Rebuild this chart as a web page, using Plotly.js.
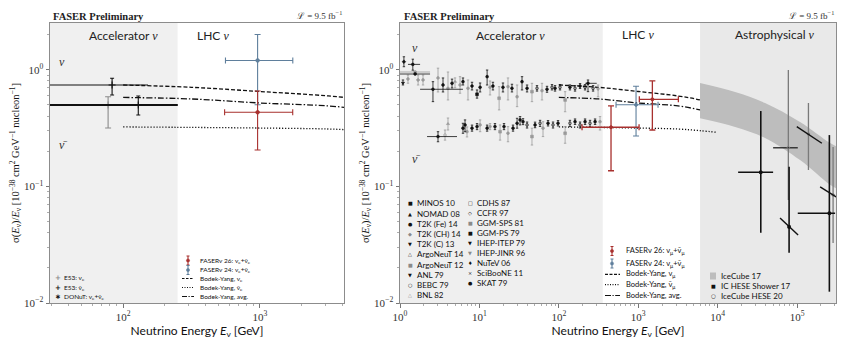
<!DOCTYPE html>
<html>
<head>
<meta charset="utf-8">
<script src="https://cdn.plot.ly/plotly-3.0.1.min.js"></script>
<style>html,body{margin:0;padding:0;background:#fff}</style>
</head>
<body>
<div id="chart" style="width:850px;height:345px"></div>
<script>
// ---------- Bodek-Yang model curves (sigma/E, 1e-38 cm^2 GeV^-1 nucleon^-1) ----------
const byE     = [100, 316, 1000, 3162, 6000, 10000];
const byNu    = [0.739, 0.706, 0.650, 0.595, 0.550, 0.489];
const byNuBar = [0.323, 0.320, 0.316, 0.310, 0.300, 0.290];
const byAvg   = [0.578, 0.561, 0.518, 0.489, 0.452, 0.415];

// ---------- Left panel: electron neutrinos ----------
const e53BlackE = [83], e53BlackS = [0.739], e53BlackLo = [0.607], e53BlackHi = [0.843], e53BlackElo = [20], e53BlackEhi = [152];
const e53GrayE = [77.6], e53GrayS = [0.498], e53GrayLo = [0.316], e53GrayHi = [0.586], e53GrayElo = [20], e53GrayEhi = [150];
const donutE = [129], donutS = [0.498], donutLo = [0.409], donutHi = [0.594], donutElo = [20], donutEhi = [251];

const faserE24E = [962], faserE24S = [1.2], faserE24Lo = [0.5], faserE24Hi = [2.0], faserE24Elo = [560], faserE24Ehi = [1740];
const faserE26E = [962], faserE26S = [0.431], faserE26Lo = [0.205], faserE26Hi = [0.656], faserE26Elo = [552], faserE26Ehi = [1738];

// ---------- Right panel: muon neutrinos ----------
const faserM24E = [938], faserM24S = [0.5], faserM24Lo = [0.27], faserM24Hi = [0.72], faserM24Elo = [525], faserM24Ehi = [1775];
const faserM26E = [454, 1506], faserM26S = [0.321, 0.557], faserM26Lo = [0.136, 0.304], faserM26Hi = [0.489, 0.80], faserM26Elo = [196, 1032], faserM26Ehi = [1024, 3200];

// accelerator nu measurements, black markers
const accNuBlkE  = [1.12, 1.45, 1.55, 1.09, 2.6, 3.48, 4.52, 6.21, 8.07, 9.33, 10.2, 12.5, 14.8, 19.8, 25.7, 34.4, 39.8, 53.1, 71, 82, 89.6, 103.5, 138, 160, 185, 214, 233, 270];
const accNuBlkS  = [1.17, 1.11, 0.918, 0.769, 0.679, 0.739, 0.764, 0.789, 0.724, 0.615, 0.706, 0.871, 0.724, 0.706, 0.692, 0.789, 0.692, 0.692, 0.679, 0.706, 0.692, 0.706, 0.706, 0.692, 0.724, 0.706, 0.764, 0.692];
const accNuBlkHi = [1.29, 1.23, 0.918, 0.816, 0.789, 0.849, 0.83, 0.849, 0.78, 0.67, 0.769, 0.993, 0.78, 0.769, 0.75, 0.871, 0.739, 0.73, 0.72, 0.745, 0.73, 0.745, 0.74, 0.73, 0.76, 0.745, 0.816, 0.73];
const accNuBlkLo = [1.06, 0.99, 0.918, 0.739, 0.532, 0.644, 0.697, 0.739, 0.67, 0.57, 0.644, 0.739, 0.67, 0.644, 0.644, 0.67, 0.644, 0.655, 0.64, 0.67, 0.655, 0.67, 0.67, 0.655, 0.69, 0.67, 0.648, 0.655];
const accNuBlkElo = [1.12, 1.26, 1.0, 1.09, 1.79, 3.48, 4.52, 6.21, 8.07, 9.33, 10.2, 12.5, 14.8, 19.8, 25.7, 34.4, 39.8, 53.1, 71, 82, 89.6, 103.5, 138, 160, 185, 214, 215, 270];
const accNuBlkEhi = [1.12, 1.79, 2.39, 1.09, 6.2, 3.48, 4.52, 6.21, 8.07, 9.33, 10.2, 12.5, 14.8, 19.8, 25.7, 34.4, 39.8, 53.1, 71, 82, 89.6, 103.5, 138, 160, 185, 214, 300, 270];
const accNuBlkSym = ['diamond', 'circle', 'circle', 'triangle-down', 'circle', 'circle', 'circle', 'circle', 'circle', 'square', 'circle', 'circle', 'circle', 'circle', 'circle', 'circle', 'circle', 'circle-open', 'circle', 'circle-open', 'circle', 'circle-open', 'circle', 'circle-open', 'circle', 'circle-open', 'circle', 'circle-open'];

// accelerator nu measurements, grey markers
const accNuGryE  = [1.55, 1.26, 1.69, 1.95, 3.01, 4.02, 4.93, 5.7, 7.18, 13.6, 17.7, 22.9, 29.8, 45.9, 61.4, 120, 312];
const accNuGryS  = [0.955, 0.832, 0.816, 0.816, 0.849, 0.692, 0.789, 0.739, 0.692, 0.706, 0.569, 0.715, 0.586, 0.648, 0.661, 0.55, 0.679];
const accNuGryHi = [0.955, 0.899, 0.899, 0.899, 1.03, 0.955, 0.85, 0.871, 0.816, 0.80, 0.715, 0.849, 0.739, 0.764, 0.764, 0.648, 0.739];
const accNuGryLo = [0.955, 0.765, 0.739, 0.739, 0.644, 0.55, 0.70, 0.628, 0.55, 0.607, 0.452, 0.55, 0.482, 0.532, 0.55, 0.436, 0.586];
const accNuGryElo = [1.0, 1.26, 1.69, 1.95, 3.01, 4.02, 4.93, 5.7, 7.18, 13.6, 17.7, 22.9, 29.8, 45.9, 61.4, 120, 312];
const accNuGryEhi = [2.39, 1.26, 1.69, 1.95, 3.01, 4.02, 4.93, 5.7, 7.18, 13.6, 17.7, 22.9, 29.8, 45.9, 61.4, 120, 312];
const accNuGrySym = ['circle', 'circle', 'diamond', 'circle', 'circle', 'circle', 'triangle-up', 'circle', 'circle', 'circle', 'square', 'circle', 'circle', 'square', 'circle', 'square', 'triangle-down'];

// accelerator anti-nu measurements, black markers
const accNbBlkE  = [3.01, 6.21, 6.59, 8.07, 9.33, 12.5, 15.7, 20.4, 26.5, 29.8, 32.5, 35.4, 39.8, 50.2, 58, 73.1, 84.5, 97.7, 138, 160, 185, 214, 247, 286];
const accNbBlkS  = [0.267, 0.315, 0.336, 0.315, 0.325, 0.315, 0.325, 0.325, 0.315, 0.347, 0.371, 0.358, 0.336, 0.336, 0.347, 0.347, 0.336, 0.347, 0.347, 0.358, 0.336, 0.358, 0.347, 0.358];
const accNbBlkHi = [0.294, 0.347, 0.371, 0.335, 0.345, 0.335, 0.345, 0.345, 0.335, 0.383, 0.396, 0.38, 0.356, 0.355, 0.368, 0.366, 0.356, 0.366, 0.368, 0.378, 0.356, 0.378, 0.368, 0.378];
const accNbBlkLo = [0.241, 0.285, 0.294, 0.297, 0.306, 0.297, 0.306, 0.306, 0.297, 0.315, 0.336, 0.338, 0.316, 0.318, 0.326, 0.329, 0.316, 0.329, 0.326, 0.339, 0.316, 0.339, 0.326, 0.339];
const accNbBlkElo = [2.19, 6.21, 6.59, 8.07, 9.33, 12.5, 15.7, 20.4, 26.5, 29.8, 32.5, 35.4, 39.8, 50.2, 58, 73.1, 84.5, 97.7, 138, 160, 185, 214, 247, 286];
const accNbBlkEhi = [5.22, 6.21, 6.59, 8.07, 9.33, 12.5, 15.7, 20.4, 26.5, 29.8, 32.5, 35.4, 39.8, 50.2, 58, 73.1, 84.5, 97.7, 138, 160, 185, 214, 247, 286];
const accNbBlkSym = ['circle', 'circle', 'circle', 'circle', 'circle', 'circle', 'circle', 'circle', 'circle', 'circle', 'circle', 'circle', 'circle-open', 'circle', 'circle-open', 'circle', 'circle-open', 'circle', 'circle-open', 'circle', 'circle-open', 'circle', 'circle-open', 'circle'];

// accelerator anti-nu measurements, grey markers
const accNbGryE  = [3.69, 4.02, 6.98, 10.2, 13.6, 18.2, 22.9, 45.9, 63.2, 120, 330];
const accNbGryS  = [0.275, 0.343, 0.294, 0.336, 0.325, 0.294, 0.285, 0.267, 0.315, 0.285, 0.358];
const accNbGryHi = [0.304, 0.385, 0.323, 0.371, 0.345, 0.336, 0.325, 0.315, 0.358, 0.325, 0.396];
const accNbGryLo = [0.249, 0.304, 0.265, 0.294, 0.306, 0.249, 0.241, 0.226, 0.267, 0.234, 0.304];
const accNbGrySym = ['circle-open', 'triangle-up', 'circle', 'circle', 'circle', 'square', 'circle', 'square', 'circle', 'square', 'circle'];

// IceCube 17 band
const icBandE  = [6000, 16600, 39500, 109000, 260000, 320000];
const icBandHi = [0.769, 0.644, 0.518, 0.356, 0.235, 0.218];
const icBandLo = [0.383, 0.323, 0.260, 0.168, 0.103, 0.095];

// IC HESE shower 17
const hsE = [34900, 79300, 255000], hsS = [0.132, 0.0449, 0.0588], hsLo = [0.040, 0.0269, 0.0125], hsHi = [0.442, 0.147, 0.275];
const hsElo = [18100, 79300, 102000], hsEhi = [49900, 79300, 301000];
// IceCube HESE 20
const h20E = [77600, 139000, 284000], h20S = [0.214, 0.281, 0.0844], h20Lo = [0.0764, 0.138, 0.0327], h20Hi = [0.993, 0.518, 0.217];
const h20Elo = [49900, 139000, 284000], h20Ehi = [102000, 139000, 284000];
// sloped energy bins
const slopeAE = [61000, 103000], slopeAS = [0.0536, 0.0383];
const slopeBE = [99100, 205000], slopeBS = [0.325, 0.234];
const slopeCE = [195000, 310000], slopeCS = [0.0988, 0.081];

// region edges (GeV)
const leftAccelEnd = 250, rightAccelEnd = 357, astroStart = 6000;

// legend labels
const leftExpLabels = ['E53: ν<sub>e</sub>', 'E53: ν̄<sub>e</sub>', 'DONuT: ν<sub>e</sub>+ν̄<sub>e</sub>'];
const leftModelLabels = ['FASERν 26: ν<sub>e</sub>+ν̄<sub>e</sub>', 'FASERν 24: ν<sub>e</sub>+ν̄<sub>e</sub>', 'Bodek-Yang, ν<sub>e</sub>', 'Bodek-Yang, ν̄<sub>e</sub>', 'Bodek-Yang, avg.'];
const accCol1 = ['MINOS 10', 'NOMAD 08', 'T2K (Fe) 14', 'T2K (CH) 14', 'T2K (C) 13', 'ArgoNeuT 14', 'ArgoNeuT 12', 'ANL 79', 'BEBC 79', 'BNL 82'];
const accCol2 = ['CDHS 87', 'CCFR 97', 'GGM-SPS 81', 'GGM-PS 79', 'IHEP-ITEP 79', 'IHEP-JINR 96', 'NuTeV 06', 'SciBooNE 11', 'SKAT 79'];
const rightModelLabels = ['FASERν 26: ν<sub>μ</sub>+ν̄<sub>μ</sub>', 'FASERν 24: ν<sub>μ</sub>+ν̄<sub>μ</sub>', 'Bodek-Yang, ν<sub>μ</sub>', 'Bodek-Yang, ν̄<sub>μ</sub>', 'Bodek-Yang, avg.'];
const astroLabels = ['IceCube 17', 'IC HESE Shower 17', 'IceCube HESE 20'];

// ---------------------------------------------------------------
const BLACK = '#111', GREY = '#8a8a8a', RED = '#a8302e', SLATE = '#5f7f9c';

function withErr(xa, ya, E, S, lo, hi, Elo, Ehi, st) {
  const t = {
    type: 'scatter', mode: 'markers', xaxis: xa, yaxis: ya, x: E, y: S,
    showlegend: false, hoverinfo: 'skip', cliponaxis: true,
    marker: {color: st.color, size: st.size || 4, symbol: st.symbol || 'circle', line: {color: st.color, width: st.mlw || 1}},
    error_y: {type: 'data', symmetric: false,
      array: hi.map((h, i) => h - S[i]), arrayminus: lo.map((l, i) => S[i] - l),
      color: st.color, thickness: st.thick || 1, width: st.cap === undefined ? 1.5 : st.cap}
  };
  if (Elo) {
    t.error_x = {type: 'data', symmetric: false,
      array: Ehi.map((h, i) => h - E[i]), arrayminus: Elo.map((l, i) => E[i] - l),
      color: st.xcolor || st.color, thickness: st.xthick || st.thick || 1, width: st.xcap === undefined ? 0 : st.xcap};
  }
  return t;
}
function curve(xa, ya, E, S, dash) {
  return {type: 'scatter', mode: 'lines', xaxis: xa, yaxis: ya, x: E, y: S, showlegend: false, hoverinfo: 'skip',
    line: {color: '#111', width: 1.3, dash: dash, shape: 'spline'}};
}
const DASH = '4px,2px', DOT = '1.2px,1.8px', DASHDOT = '6px,2px,1.5px,2px';

const traces = [];
// model curves in both panels
['x', 'x2'].forEach((xa, k) => {
  const ya = k ? 'y2' : 'y';
  traces.push(curve(xa, ya, byE, byNu, DASH));
  traces.push(curve(xa, ya, byE, byAvg, DASHDOT));
  traces.push(curve(xa, ya, byE, byNuBar, DOT));
});
// left panel data
traces.push(withErr('x', 'y', e53GrayE, e53GrayS, e53GrayLo, e53GrayHi, e53GrayElo, e53GrayEhi, {color: GREY, symbol: 'cross-thin', size: 5, cap: 3, thick: 1.1}));
traces.push(withErr('x', 'y', e53BlackE, e53BlackS, e53BlackLo, e53BlackHi, e53BlackElo, e53BlackEhi, {color: BLACK, symbol: 'cross-thin', size: 5, cap: 2, thick: 1.1}));
traces.push(withErr('x', 'y', donutE, donutS, donutLo, donutHi, donutElo, donutEhi, {color: BLACK, symbol: 'cross-thin', size: 5, cap: 2, thick: 1.1, xthick: 1.8}));
traces.push(withErr('x', 'y', faserE24E, faserE24S, faserE24Lo, faserE24Hi, faserE24Elo, faserE24Ehi, {color: SLATE, size: 3.5, cap: 3, xcap: 3, thick: 1.1}));
traces.push(withErr('x', 'y', faserE26E, faserE26S, faserE26Lo, faserE26Hi, faserE26Elo, faserE26Ehi, {color: RED, size: 3.5, cap: 3, xcap: 3, thick: 1.1}));

// right panel: IceCube band
traces.push({type: 'scatter', mode: 'lines', xaxis: 'x2', yaxis: 'y2', x: icBandE, y: icBandLo, line: {width: 0, shape: 'spline'}, showlegend: false, hoverinfo: 'skip'});
traces.push({type: 'scatter', mode: 'lines', xaxis: 'x2', yaxis: 'y2', x: icBandE, y: icBandHi, line: {width: 0, shape: 'spline'}, fill: 'tonexty', fillcolor: '#bdbdbd', showlegend: false, hoverinfo: 'skip'});

// right panel: accelerator data
const accStyle = {size: 2.8, cap: 1.2, thick: 0.8, mlw: 0.6};
traces.push(withErr('x2', 'y2', accNuGryE, accNuGryS, accNuGryLo, accNuGryHi, accNuGryElo, accNuGryEhi, Object.assign({color: '#9a9a9a', symbol: accNuGrySym}, accStyle)));
traces.push(withErr('x2', 'y2', accNbGryE, accNbGryS, accNbGryLo, accNbGryHi, null, null, Object.assign({color: '#9a9a9a', symbol: accNbGrySym}, accStyle)));
traces.push(withErr('x2', 'y2', accNuBlkE, accNuBlkS, accNuBlkLo, accNuBlkHi, accNuBlkElo, accNuBlkEhi, Object.assign({color: BLACK, symbol: accNuBlkSym}, accStyle)));
traces.push(withErr('x2', 'y2', accNbBlkE, accNbBlkS, accNbBlkLo, accNbBlkHi, accNbBlkElo, accNbBlkEhi, Object.assign({color: BLACK, symbol: accNbBlkSym}, accStyle)));

// right panel: FASER
traces.push(withErr('x2', 'y2', faserM24E, faserM24S, faserM24Lo, faserM24Hi, faserM24Elo, faserM24Ehi, {color: SLATE, size: 3, cap: 3, xcap: 3, thick: 1.1}));
traces.push(withErr('x2', 'y2', faserM26E, faserM26S, faserM26Lo, faserM26Hi, faserM26Elo, faserM26Ehi, {color: RED, size: 3, cap: 3, xcap: 3, thick: 1.3}));

// right panel: astrophysical
traces.push(withErr('x2', 'y2', h20E, h20S, h20Lo, h20Hi, h20Elo, h20Ehi, {color: '#7a7a7a', symbol: 'circle-open', size: 2.5, cap: 0, thick: 1.3, xcolor: '#222'}));
traces.push(withErr('x2', 'y2', hsE, hsS, hsLo, hsHi, hsElo, hsEhi, {color: BLACK, symbol: 'square', size: 2.5, cap: 0, thick: 1.6, xthick: 1.3}));
[[slopeAE, slopeAS], [slopeBE, slopeBS], [slopeCE, slopeCS]].forEach(([E, S]) => {
  traces.push({type: 'scatter', mode: 'lines', xaxis: 'x2', yaxis: 'y2', x: E, y: S, line: {color: BLACK, width: 1.4}, showlegend: false, hoverinfo: 'skip'});
});

// ---------------------------------------------------------------
// layout helpers (pixel -> paper)
const ML = 50, MR = 14, MT = 23, MB = 42, W = 850, H = 345;
const PW = W - ML - MR, PH = H - MT - MB;
const px = v => (v - ML) / PW;
const py = v => (H - MB - v) / PH;

function minorTicks(lo, hi) {
  const out = [];
  for (let d = lo; d < hi; d++) for (let m = 2; m <= 9; m++) out.push(m * Math.pow(10, d));
  return out;
}
function logAxis(range, majors, labels, minors, domain, anchor) {
  return {
    type: 'log', range: range, domain: domain, anchor: anchor,
    tickmode: 'array', tickvals: majors, ticktext: labels,
    ticks: 'outside', ticklen: 3.5, tickwidth: 0.8, tickcolor: '#555',
    minor: {tickmode: 'array', tickvals: minors, ticks: 'outside', ticklen: 2, tickwidth: 0.6, tickcolor: '#777'},
    showline: true, mirror: true, linecolor: '#8c8c8c', linewidth: 1,
    showgrid: false, zeroline: false,
    tickfont: {family: 'Liberation Serif, serif', size: 11, color: '#333'}
  };
}
const sup = n => '10<sup>' + String(n).replace('-', '−') + '</sup>';
const ytitle = 'σ(<i>E</i><sub>ν</sub>)/<i>E</i><sub>ν</sub> [10<sup>−38</sup> cm<sup>2</sup> GeV<sup>−1</sup> nucleon<sup>−1</sup>]';
const xtitle = 'Neutrino Energy <i>E</i><sub>ν</sub> [GeV]';

const xa1 = logAxis([1.465, 3.615], [100, 1000], [sup(2), sup(3)], minorTicks(1, 4), [0, (344 - ML) / PW], 'y');
const xa2 = logAxis([0, 5.49], [1, 10, 100, 1000, 1e4, 1e5], [0, 1, 2, 3, 4, 5].map(sup), minorTicks(0, 6), [(400 - ML) / PW, 1], 'y2');
const ya1 = logAxis([-2, 0.4], [0.01, 0.1, 1], [sup(-2), sup(-1), sup(0)], minorTicks(-2, 1), [0, 1], 'x');
const ya2 = logAxis([-2, 0.4], [0.01, 0.1, 1], [sup(-2), sup(-1), sup(0)], minorTicks(-2, 1), [0, 1], 'x2');
[xa1, xa2].forEach(a => a.title = {text: xtitle, font: {family: 'Lato, sans-serif', size: 12, color: '#111'}, standoff: 3});
[ya1, ya2].forEach(a => a.title = {text: ytitle, font: {family: 'Liberation Serif, serif', size: 10.5, color: '#111'}, standoff: 2});

const shapes = [
  {type: 'rect', xref: 'x', yref: 'y domain', x0: 20, x1: leftAccelEnd, y0: 0, y1: 1, fillcolor: '#f0f0f0', line: {width: 0}, layer: 'below'},
  {type: 'rect', xref: 'x2', yref: 'y2 domain', x0: 1, x1: rightAccelEnd, y0: 0, y1: 1, fillcolor: '#efefef', line: {width: 0}, layer: 'below'},
  {type: 'rect', xref: 'x2', yref: 'y2 domain', x0: astroStart, x1: 4e5, y0: 0, y1: 1, fillcolor: '#e9e9e9', line: {width: 0}, layer: 'below'}
];
const ann = [];
function txt(x, y, text, o) {
  o = o || {};
  ann.push({xref: 'paper', yref: 'paper', x: px(x), y: py(y), text: text, showarrow: false,
    xanchor: o.xanchor || 'left', yanchor: 'middle',
    font: {family: o.family || 'Lato, sans-serif', size: o.size || 8, color: o.color || '#111'}});
}
function hline(x0, x1, y, dash, color, w) {
  shapes.push({type: 'line', xref: 'paper', yref: 'paper', x0: px(x0), x1: px(x1), y0: py(y), y1: py(y), line: {color: color || '#111', width: w || 1.2, dash: dash || 'solid'}});
}
function vline(x, y0, y1, color, w) {
  shapes.push({type: 'line', xref: 'paper', yref: 'paper', x0: px(x), x1: px(x), y0: py(y0), y1: py(y1), line: {color: color, width: w || 1}});
}
function errIcon(x, y, color) {
  vline(x, y - 4.5, y + 4.5, color, 1.1);
  hline(x - 1.5, x + 1.5, y - 4.5, 'solid', color, 1);
  hline(x - 1.5, x + 1.5, y + 4.5, 'solid', color, 1);
  shapes.push({type: 'circle', xref: 'paper', yref: 'paper', x0: px(x - 1.6), x1: px(x + 1.6), y0: py(y + 1.6), y1: py(y - 1.6), fillcolor: color, line: {color: color, width: 0.5}});
}

// header texts
const serif = 'Liberation Serif, serif';
[[50.5, 344], [401.5, 836]].forEach(([l, r]) => {
  txt(l, 16, '<b>FASER Preliminary</b>', {family: serif, size: 10.5, color: '#222'});
  txt(r, 15, 'ℒ = 9.5 fb<sup>−1</sup>', {family: serif, size: 9, xanchor: 'right', color: '#333'});
});
// region labels
const nuI = '<span style="font-family:Liberation Serif"><i>ν</i></span>';
txt(123, 36, 'Accelerator ' + nuI, {size: 12, xanchor: 'center', color: '#222'});
txt(213, 36, 'LHC ' + nuI, {size: 12, xanchor: 'center', color: '#222'});
txt(510, 36, 'Accelerator ' + nuI, {size: 12, xanchor: 'center', color: '#222'});
txt(638, 35, 'LHC ' + nuI, {size: 12, xanchor: 'center', color: '#222'});
txt(775, 35, 'Astrophysical ' + nuI, {size: 12, xanchor: 'center', color: '#222'});
// nu / anti-nu tags
txt(57, 62, '<i>ν</i>', {family: serif, size: 12, color: '#333'});
txt(57, 145, '<i>ν̄</i>', {family: serif, size: 12, color: '#333'});
txt(410, 48, '<i>ν</i>', {family: serif, size: 12, color: '#333'});
txt(410, 159, '<i>ν̄</i>', {family: serif, size: 12, color: '#333'});

// left legends
const leftExpGlyph = [['+', GREY], ['+', BLACK], ['∗', BLACK]];
leftExpLabels.forEach((s, i) => {
  const y = 278 + 9.5 * i;
  txt(58, y, '<b>' + leftExpGlyph[i][0] + '</b>', {size: 7, xanchor: 'center', color: leftExpGlyph[i][1], family: 'DejaVu Sans'});
  txt(61.5, y, s, {size: 6.5});
});
const leftRows = [260.5, 270, 278.5, 287.5, 296.5];
leftModelLabels.forEach((s, i) => txt(198, leftRows[i], s, {size: 6.5}));
errIcon(188, leftRows[0], RED);
errIcon(188, leftRows[1], SLATE);
hline(182, 194, leftRows[2], '2.5px,1.5px');
hline(182, 194, leftRows[3], '1px,1.5px');
hline(182, 194, leftRows[4], '5px,1.5px,1.2px,1.5px');

// right legends
const g1 = [['■', BLACK], ['▲', BLACK], ['●', BLACK], ['◆', GREY], ['▼', BLACK], ['△', BLACK], ['■', GREY], ['▼', BLACK], ['○', BLACK], ['△', GREY]];
const g2 = [['□', BLACK], ['◇', BLACK], ['■', GREY], ['■', BLACK], ['▼', BLACK], ['▼', GREY], ['♦', BLACK], ['×', BLACK], ['●', BLACK]];
accCol1.forEach((s, i) => {
  const y = 203.3 + 10.2 * i;
  txt(410, y, g1[i][0], {size: 5, xanchor: 'center', color: g1[i][1], family: 'DejaVu Sans'});
  txt(414.5, y, s, {size: 8});
});
accCol2.forEach((s, i) => {
  const y = 203.3 + 10.0 * i;
  txt(470, y, g2[i][0], {size: 5, xanchor: 'center', color: g2[i][1], family: 'DejaVu Sans'});
  txt(474.5, y, s, {size: 8});
});
const rightRows = [251, 263.5, 274.3, 284.7, 295.5];
rightModelLabels.forEach((s, i) => txt(624, rightRows[i], s, {size: 7.5}));
errIcon(612, rightRows[0], RED);
errIcon(612, rightRows[1], SLATE);
hline(605, 620, rightRows[2], '3px,1.5px');
hline(605, 620, rightRows[3], '1px,1.5px');
hline(605, 620, rightRows[4], '6px,1.5px,1.2px,1.5px');
const astroRows = [276, 285.5, 295.5];
shapes.push({type: 'rect', xref: 'paper', yref: 'paper', x0: px(710), x1: px(716), y0: py(279.5), y1: py(272.5), fillcolor: '#bdbdbd', line: {width: 0}});
txt(713, astroRows[1], '■', {size: 5, xanchor: 'center', family: 'DejaVu Sans'});
txt(713, astroRows[2], '○', {size: 5.5, xanchor: 'center', family: 'DejaVu Sans'});
astroLabels.forEach((s, i) => txt(718.5, astroRows[i], s, {size: 8}));

const layout = {
  width: W, height: H, margin: {l: ML, r: MR, t: MT, b: MB, pad: 0},
  paper_bgcolor: '#fff', plot_bgcolor: '#fff', showlegend: false,
  xaxis: xa1, yaxis: ya1, xaxis2: xa2, yaxis2: ya2,
  shapes: shapes, annotations: ann
};
Plotly.newPlot('chart', traces, layout, {staticPlot: true, displayModeBar: false});
</script>
</body>
</html>
